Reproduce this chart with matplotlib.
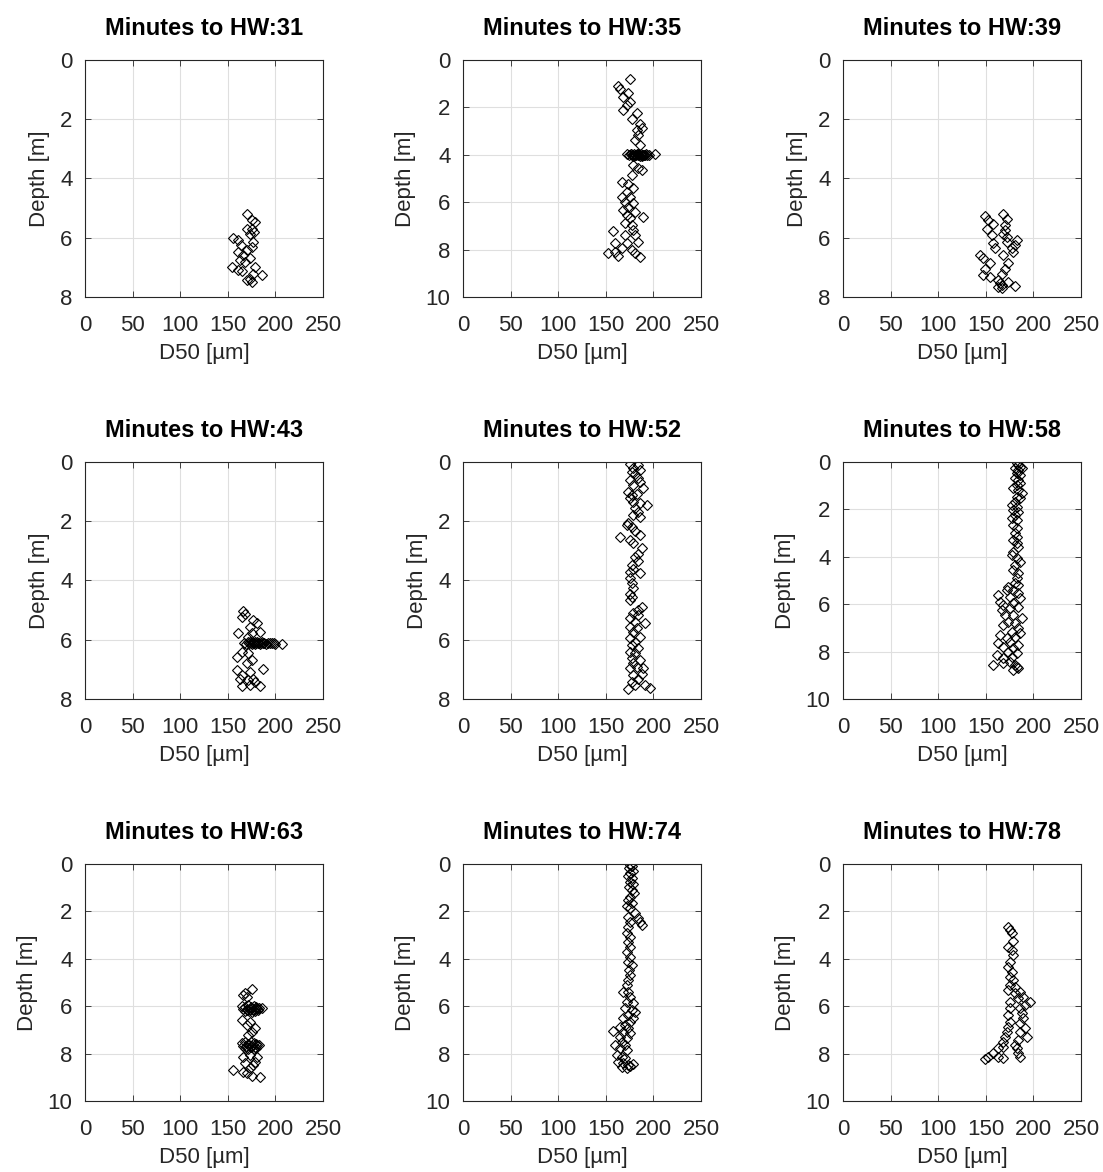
import matplotlib
matplotlib.use("Agg")
import matplotlib.pyplot as plt

plt.rcParams['font.family'] = ['Liberation Sans', 'DejaVu Sans']

minutes = [31, 35, 39, 43, 52, 58, 63, 74, 78]
depth_limits = [8, 10, 8, 8, 8, 10, 10, 10, 10]

# --- D50 [um] and depth [m] per profile ---
d50_31 = [169.8, 175, 178.6, 169.8, 175, 173.3, 177.5, 155.8, 161, 176.8, 163.5, 175, 161, 169.8,
          166.3, 173.3, 162.8, 168, 154, 161, 164.6, 178.6, 185.6, 169.8, 173.3, 175, 176.8]
depth_31 = [5.20, 5.41, 5.48, 5.72, 5.72, 5.86, 5.80, 6.00, 6.08, 6.14, 6.25, 6.30, 6.47, 6.42,
            6.59, 6.70, 6.76, 6.81, 7.00, 7.09, 7.12, 7.00, 7.26, 7.41, 7.38, 7.49, 7.23]

d50_35 = [175.4, 163, 165, 173.7, 168.4, 175.4, 171.9, 168.4, 182.4, 177.1, 186, 182.4, 187.7,
          184.1, 180.6, 186,
          172, 174, 176, 177, 178, 179, 180, 181, 182, 183, 184, 185, 186, 187, 188, 189, 190,
          191, 192, 193, 195, 176, 180, 184, 188, 201.7,
          178.9, 184.1, 187.7, 177.1, 166.7, 173.7, 178.9, 171.9, 166.7, 175.4, 170.2, 178.9,
          173.7, 168.4, 180.6, 171.9, 189.4, 175.4, 170.2, 177.1, 157.9, 178.9, 170.2, 180.6,
          184.1, 171.9, 159.7, 166.7, 152.6, 163.2, 177.1, 186, 159.7, 180.6]
depth_35 = [0.82, 1.10, 1.24, 1.41, 1.58, 1.76, 1.90, 2.11, 2.25, 2.50, 2.70, 2.95, 2.88,
            3.16, 3.38, 3.59,
            3.98, 4.01, 3.97, 4.02, 3.99, 4.03, 3.98, 4.00, 4.02, 3.97, 4.01, 3.99, 4.03, 3.98,
            4.00, 4.02, 3.99, 4.01, 3.98, 4.00, 3.99, 3.95, 4.05, 3.96, 4.04, 3.98,
            4.43, 4.57, 4.64, 4.85, 5.13, 5.23, 5.41, 5.56, 5.77, 5.77, 5.98, 6.05,
            6.19, 6.33, 6.40, 6.54, 6.61, 6.68, 6.89, 6.96, 7.20, 7.17, 7.38, 7.38,
            7.67, 7.74, 7.74, 7.95, 8.13, 8.27, 8.02, 8.30, 8.09, 8.16]

d50_39 = [149.2, 152.7, 158, 151, 156.3, 158, 159.7, 168.4, 171.9, 170.2, 170.2, 168.4, 171.9,
          171.9, 182.4, 180.6, 177.1, 178.9, 143.9, 147.4, 154.4, 168.4, 173.7, 149.2, 170.2,
          147.4, 166.7, 154.4, 163.2, 164.9, 173.7, 180.6, 166.7, 163.2, 166.7]
depth_39 = [5.27, 5.41, 5.52, 5.72, 5.91, 6.19, 6.33, 5.20, 5.38, 5.57, 5.74, 5.86, 5.97,
            6.14, 6.08, 6.25, 6.36, 6.47, 6.59, 6.70, 6.85, 6.59, 6.85, 7.04, 7.04,
            7.26, 7.21, 7.33, 7.41, 7.52, 7.49, 7.64, 7.71, 7.66, 7.60]

d50_43 = [166.3, 168, 164.6, 176.8, 180.3, 173.3, 183.8, 161, 175, 171.6,
          167, 169, 171, 172, 173, 174, 175, 176, 177, 178, 179, 180, 181, 182, 183, 184,
          185, 186, 187, 188, 190, 192, 194, 196, 198, 200, 206.5,
          164.6, 159.2, 171.6, 175, 170, 187.3, 159.2, 164.6, 173.3, 176.8, 171.6, 164.6,
          173.3, 183.8, 178.2, 163]
depth_43 = [5.02, 5.14, 5.23, 5.34, 5.45, 5.56, 5.73, 5.77, 5.77, 5.90,
            6.10, 6.13, 6.09, 6.12, 6.08, 6.11, 6.14, 6.10, 6.12, 6.09, 6.13, 6.11, 6.08,
            6.12, 6.10, 6.14, 6.11, 6.09, 6.12, 6.10, 6.13, 6.11, 6.10, 6.12, 6.11, 6.13, 6.15,
            6.41, 6.58, 6.46, 6.69, 6.80, 6.99, 7.03, 7.20, 7.08, 7.31, 7.36, 7.57,
            7.53, 7.57, 7.42, 7.31]

d50_52 = [175.4, 184.1, 178.9, 186, 177.1, 180.6, 184.1, 175.4, 186, 178.9, 189.4, 173.7,
          182.4, 177.1, 193, 186, 178.9, 175.4, 180.6, 184.1, 186, 178.9, 173.7, 177.1,
          171.9, 180.6, 186, 165, 175.4, 178.9, 187.7, 184.1, 180.6, 184.1, 177.1, 178.9,
          175.4, 186, 175.4, 177.1, 178.9, 175.4, 177.1, 175.4, 187.7, 184.1, 178.9, 175.4,
          184.1, 191.2, 180.6, 175.4, 182.4, 178.9, 186, 175.4, 180.6, 177.1, 184.1, 175.4,
          180.6, 177.1, 186, 178.9, 182.4, 175.4, 189.4, 187.7, 178.9, 184.1, 177.1, 180.6,
          191.2, 196.5, 173.7]
depth_52 = [0.07, 0.10, 0.19, 0.27, 0.35, 0.42, 0.53, 0.61, 0.66, 0.78, 0.89, 1.00,
            1.09, 1.13, 1.45, 1.39, 1.34, 1.22, 1.56, 1.68, 1.85, 1.79, 2.07, 2.18,
            2.13, 2.33, 2.47, 2.52, 2.64, 2.75, 2.92, 3.09, 3.20, 3.34, 3.48, 3.61,
            3.70, 3.76, 3.93, 4.10, 4.27, 4.44, 4.55, 4.66, 4.89, 5.00, 5.11, 5.28,
            5.17, 5.45, 5.39, 5.56, 5.62, 5.73, 5.90, 5.93, 6.07, 6.18, 6.29, 6.41,
            6.46, 6.63, 6.69, 6.80, 6.91, 6.97, 6.97, 7.14, 7.20, 7.31, 7.42, 7.54,
            7.54, 7.63, 7.65]

d50_58 = [182.4, 184.1, 186, 180.6, 184.1, 187.7, 182.4, 186, 180.6, 184.1, 186, 182.4,
          178.9, 184.1, 187.7, 182.4, 186, 180.6, 177.1, 182.4, 178.9, 184.1, 180.6, 177.1,
          182.4, 178.9, 182.4, 180.6, 182.4, 178.9, 182.4, 184.1, 178.9, 177.1, 182.4, 186,
          180.6, 178.9, 184.1, 182.4, 180.6, 173.7, 184.1, 171.9, 178.9, 184.1, 163.2, 175.4,
          186, 165, 168.4, 178.9, 166.7, 175.4, 184.1, 170.2, 178.9, 187.7, 173.7, 180.6,
          168.4, 184.1, 177.1, 186, 165, 171.9, 180.6, 163.2, 175.4, 184.1, 168.4, 178.9,
          173.7, 182.4, 161.4, 168.4, 177.1, 157.9, 168.4, 175.4, 180.6, 184.1, 178.9, 182.4]
depth_58 = [0.06, 0.13, 0.20, 0.27, 0.34, 0.27, 0.48, 0.55, 0.69, 0.76, 0.90, 0.97,
            1.11, 1.18, 1.32, 1.46, 1.53, 1.67, 1.81, 1.88, 2.02, 2.09, 2.24, 2.38,
            2.45, 2.66, 2.80, 3.01, 3.15, 3.29, 3.43, 3.57, 3.78, 3.92, 4.06, 4.20,
            4.35, 4.56, 4.70, 4.91, 5.12, 5.26, 5.19, 5.40, 5.40, 5.54, 5.61, 5.68,
            5.75, 5.89, 6.03, 5.96, 6.24, 6.17, 6.10, 6.46, 6.46, 6.60, 6.74, 6.81,
            6.88, 7.02, 7.16, 7.23, 7.30, 7.44, 7.37, 7.65, 7.58, 7.72, 7.79, 7.86,
            8.00, 8.07, 8.14, 8.28, 8.21, 8.56, 8.49, 8.42, 8.56, 8.70, 8.77, 8.63]

d50_63 = [175.1, 168.1, 169.8, 166.3,
          165, 168, 171, 174, 177, 180, 183, 166, 170, 173, 176, 179, 182, 168, 172, 175, 178,
          181, 185.6,
          164.6, 173.3, 169.8, 178.2, 175.1, 171.6,
          165, 168, 171, 174, 177, 180, 183, 166, 169, 172, 175, 178, 181, 168, 171, 174, 177,
          180,
          166.3, 173.3, 180.3, 168.1, 176.8, 155.8, 169.8, 175.1, 183.8, 166.3, 173.3, 178.2]
depth_63 = [5.29, 5.46, 5.60, 5.53,
            5.98, 6.02, 5.95, 6.05, 5.99, 6.03, 6.08, 6.12, 6.15, 6.10, 6.18, 6.13, 6.16, 6.22,
            6.20, 6.24, 6.19, 6.09, 6.09,
            6.58, 6.65, 6.79, 6.93, 7.08, 7.22,
            7.55, 7.50, 7.58, 7.52, 7.56, 7.60, 7.64, 7.66, 7.70, 7.62, 7.68, 7.72, 7.65, 7.78,
            7.80, 7.74, 7.82, 7.76,
            8.13, 8.06, 8.16, 8.41, 8.48, 8.69, 8.83, 8.94, 8.97, 8.76, 8.62, 8.34]

d50_74 = [175.4, 177.1, 174.7, 178.2, 175.4, 173.7, 177.1, 175.4, 178.9, 174.7, 177.1, 179.6,
          175.4, 173.7, 177.1, 171.9, 175.4, 180.6, 173.7, 184.1, 187.7, 186, 175.4, 173.7,
          171.9, 175.4, 173.7, 175.4, 171.9, 175.4, 173.7, 177.1, 174.7, 175.4, 173.7, 171.9,
          168.4, 173.7, 175.4, 171.9, 178.9, 170.2, 177.1, 180.6, 173.7, 168.4, 178.9, 175.4,
          170.2, 165, 173.7, 157.9, 168.4, 175.4, 165, 171.9, 166.7, 159.7, 170.2, 165,
          171.9, 161.4, 166.7, 170.2, 163.2, 168.4, 173.7, 178.9, 166.7, 171.9, 175.4]
depth_74 = [0.05, 0.10, 0.18, 0.30, 0.39, 0.49, 0.60, 0.75, 0.86, 0.96, 1.10, 1.24,
            1.38, 1.52, 1.66, 1.76, 1.87, 2.08, 2.22, 2.29, 2.57, 2.43, 2.43, 2.64,
            2.93, 3.07, 3.28, 3.49, 3.70, 3.91, 4.12, 4.26, 4.47, 4.68, 4.89, 5.11,
            5.39, 5.39, 5.60, 5.81, 5.88, 6.09, 6.16, 6.23, 6.37, 6.51, 6.51, 6.65,
            6.79, 6.86, 6.93, 7.03, 7.07, 7.14, 7.29, 7.36, 7.50, 7.64, 7.64, 7.78,
            7.85, 8.06, 8.13, 8.20, 8.34, 8.41, 8.48, 8.45, 8.55, 8.62, 8.51]

d50_78 = [173.6, 175.4, 177.1, 178.9, 173.7, 177.1, 178.9, 175.4, 173.7, 177.1, 175.4, 178.9,
          175.4, 180.6, 173.7, 186, 180.6, 189.4, 184.1, 196.5, 175.4, 191.2, 175.4, 186,
          187.7, 173.7, 189.4, 175.4, 186, 173.7, 191.2, 186, 171.9, 193, 170.2, 184.1,
          168.4, 168.4, 180.6, 163.2, 182.4, 157.9, 184.1, 152.6, 149.1, 163.2, 168.4, 186]
depth_78 = [2.64, 2.78, 2.93, 3.25, 3.49, 3.63, 3.84, 4.12, 4.33, 4.54, 4.75, 4.89,
            5.11, 5.18, 5.32, 5.39, 5.46, 5.60, 5.67, 5.81, 5.81, 5.95, 6.09, 6.09,
            6.30, 6.37, 6.51, 6.65, 6.72, 6.86, 6.93, 7.07, 7.07, 7.29, 7.29, 7.43,
            7.50, 7.71, 7.64, 7.78, 7.78, 7.99, 7.99, 8.13, 8.23, 8.13, 8.20, 8.13]

d50_profiles = [d50_31, d50_35, d50_39, d50_43, d50_52, d50_58, d50_63, d50_74, d50_78]
depth_profiles = [depth_31, depth_35, depth_39, depth_43, depth_52, depth_58, depth_63,
                  depth_74, depth_78]

x_ticks = [0, 50, 100, 150, 200, 250]

fig = plt.figure(figsize=(11.03, 11.72), dpi=100)

col_left = [0.0771, 0.4198, 0.7643]
row_bottom = [0.7466, 0.4036, 0.0606]
ax_w, ax_h = 0.2158, 0.2022
axis_grey = '#262626'

for k, (mins, ymax, d50, depth) in enumerate(zip(minutes, depth_limits, d50_profiles,
                                                  depth_profiles)):
    r, c = divmod(k, 3)
    ax = fig.add_axes([col_left[c], row_bottom[r], ax_w, ax_h])
    ax.plot(d50, depth, linestyle='none', marker='D', markersize=5.2,
            markerfacecolor='none', markeredgecolor='black', markeredgewidth=0.8)
    ax.set_xlim(0, 250)
    ax.set_ylim(ymax, 0)
    ax.set_xticks(x_ticks)
    ax.set_yticks(list(range(0, ymax + 1, 2)))
    ax.grid(True, color='#dfdfdf', linewidth=0.8)
    ax.set_axisbelow(True)
    ax.tick_params(direction='in', top=True, right=True, labelsize=16,
                   colors=axis_grey, length=4, width=0.6)
    ax.tick_params(axis='x', pad=13)
    ax.tick_params(axis='y', pad=9)
    for sp in ax.spines.values():
        sp.set_color(axis_grey)
        sp.set_linewidth(0.8)
    ax.set_xlabel('D50 [µm]', fontsize=16, color=axis_grey, labelpad=5)
    ax.set_ylabel('Depth [m]', fontsize=16, color=axis_grey, labelpad=7)
    ax.set_title(f'Minutes to HW:{mins}', fontsize=17, fontweight='bold', pad=18)

fig.savefig('out.png', dpi=100)
